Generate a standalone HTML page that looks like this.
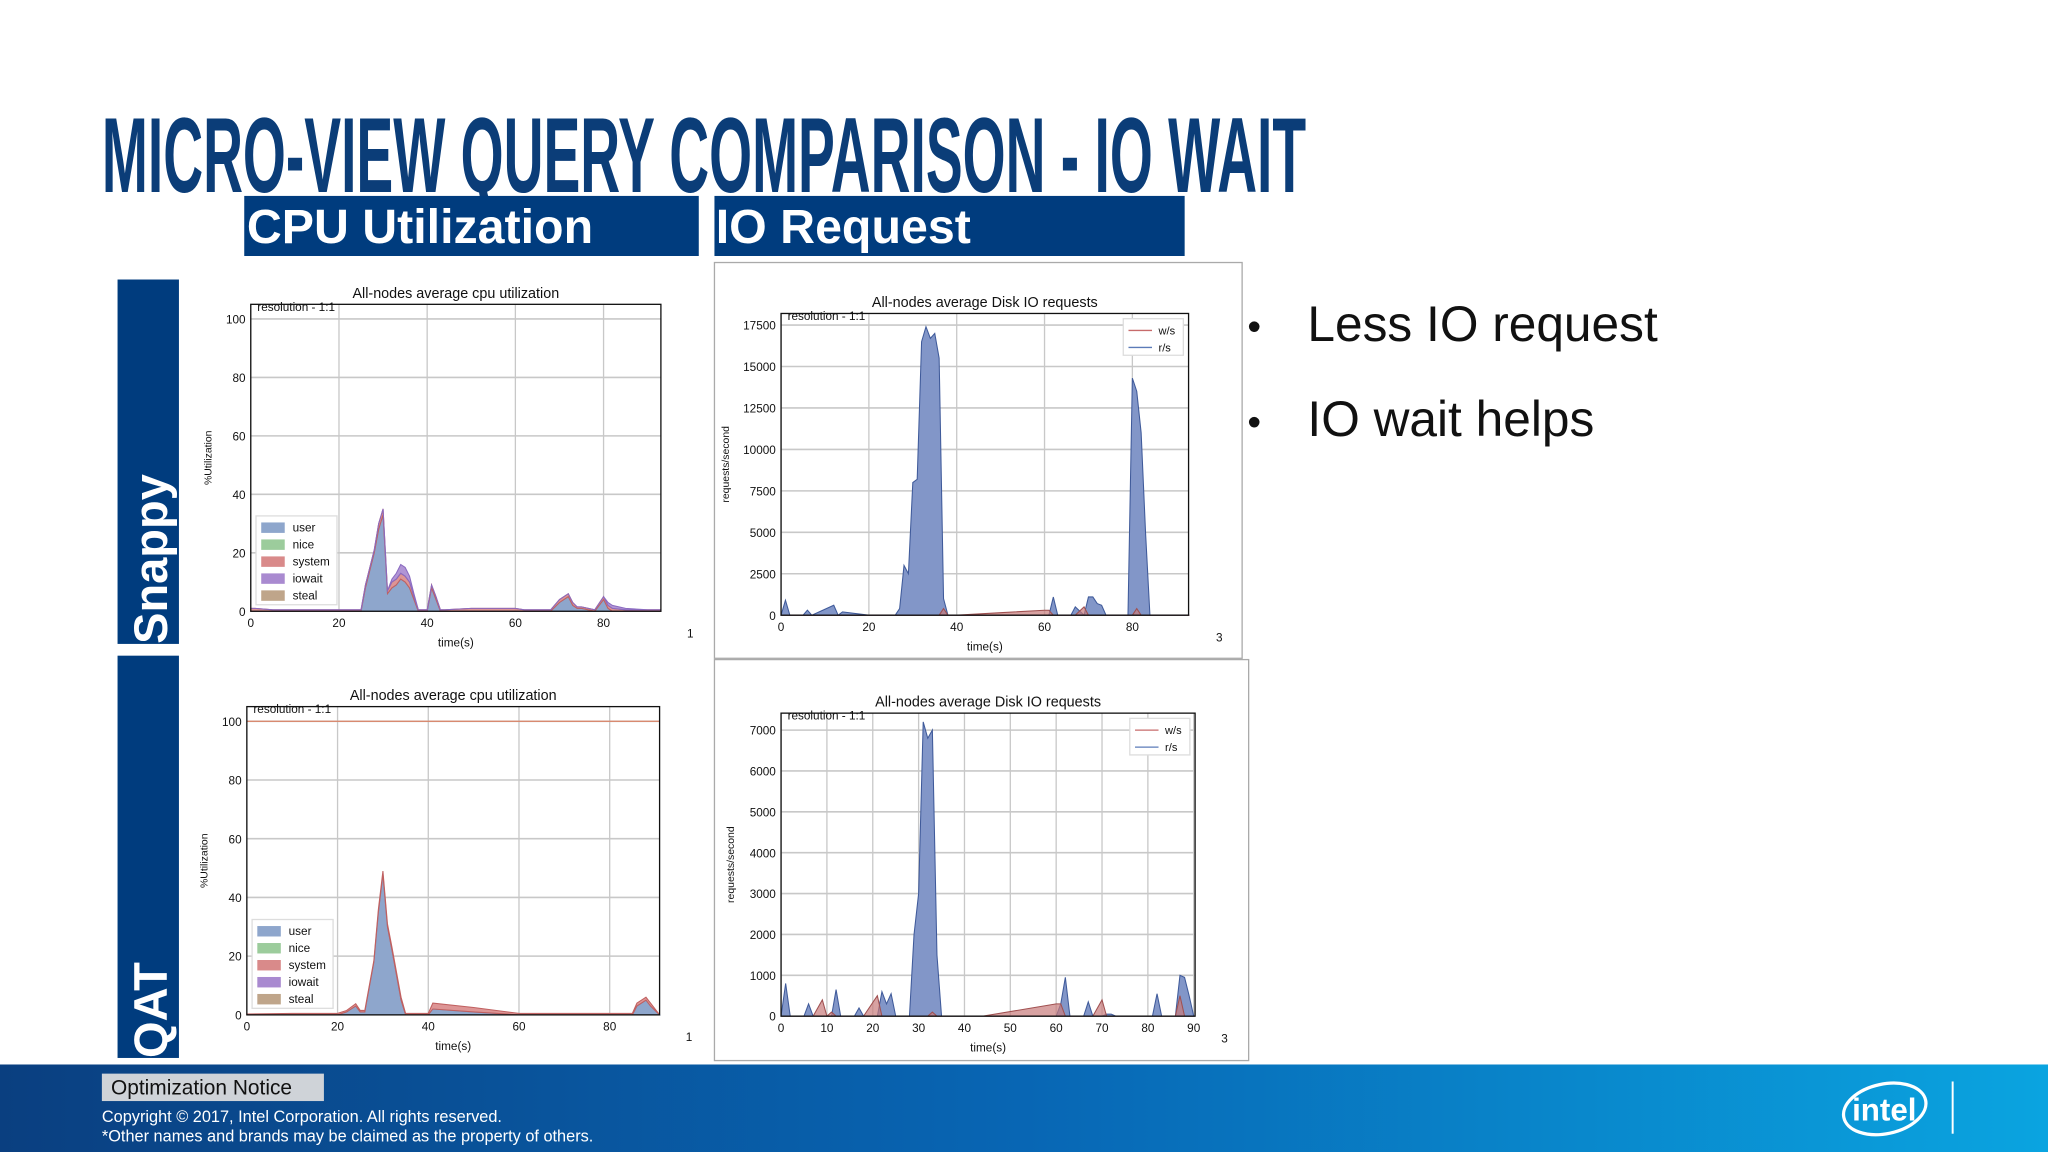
<!DOCTYPE html>
<html><head><meta charset="utf-8">
<style>
html,body{margin:0;padding:0;background:#fff;overflow:hidden}
svg{display:block}
text{font-family:"Liberation Sans",sans-serif}
</style></head>
<body>
<svg id="slide" width="2048" height="1152" viewBox="0 0 1568 882" xmlns="http://www.w3.org/2000/svg">
<defs>
<linearGradient id="footg" x1="0" x2="1" y1="0" y2="0">
<stop offset="0" stop-color="#0a3f80"/><stop offset="0.5" stop-color="#0866b4"/><stop offset="1" stop-color="#0aa4e0"/>
</linearGradient>
</defs>
<rect width="1568" height="882" fill="#fff"/>
<text x="78" y="147" font-family="'Liberation Sans Narrow','Liberation Sans',sans-serif" font-weight="bold" font-size="82" fill="#0b3d78" textLength="922" lengthAdjust="spacingAndGlyphs">MICRO-VIEW QUERY COMPARISON - IO WAIT</text>
<g><rect x="187" y="150" width="348" height="46" fill="#003c7e"/><text x="189" y="186" font-weight="bold" font-size="37" fill="#fff">CPU Utilization</text></g>
<g><rect x="547" y="150" width="360" height="46" fill="#003c7e"/><text x="548" y="186" font-weight="bold" font-size="37" fill="#fff">IO Request</text></g>
<g><rect x="90" y="214" width="47" height="279" fill="#003c7e"/><text transform="translate(128,493) rotate(-90)" font-weight="bold" font-size="36" fill="#fff">Snappy</text></g>
<g><rect x="90" y="502" width="47" height="308" fill="#003c7e"/><text transform="translate(128,810) rotate(-90)" font-weight="bold" font-size="36" fill="#fff">QAT</text></g>
<rect x="547" y="201" width="404" height="303" fill="none" stroke="#aaa"/>
<rect x="547" y="505" width="409" height="307" fill="none" stroke="#aaa"/>
<g id="charts"></g>
<g font-size="38" fill="#111">
<text x="955" y="260" font-size="30">•</text><text x="1001" y="261">Less IO request</text>
<text x="955" y="333" font-size="30">•</text><text x="1001" y="334">IO wait helps</text>
</g>
<rect x="0" y="815" width="1568" height="67" fill="url(#footg)"/>
<g><rect x="78" y="822" width="170" height="21" fill="#cfd3d8"/><text x="85" y="838" font-size="16" fill="#111">Optimization Notice</text></g>
<text x="78" y="859" font-size="12.5" fill="#fff">Copyright ©  2017, Intel Corporation. All rights reserved.</text>
<text x="78" y="874" font-size="12.5" fill="#fff">*Other names and brands may be claimed as the property of others.</text>
<g>
<ellipse cx="1443" cy="849" rx="32" ry="19" fill="none" stroke="#fff" stroke-width="2.5" transform="rotate(-12 1443 849)"/>
<text x="1418" y="858" font-size="24" font-weight="bold" fill="#fff">intel</text>
<line x1="1495" y1="828" x2="1495" y2="868" stroke="#fff" stroke-width="1.5"/>
</g>
</svg>
<script>
// ---- data: Snappy CPU ----
const cpuTopT      = [0,1,5,10,20,25,26,28,29,30,31,32,33,34,35,36,37,38,40,41,42,43,44,50,60,62,68,70,72,73,74,75,78,80,81,82,85,90,93];
const cpuTopUser   = [0,0,0,0,0,0,8,20,28,33,6,8,9,11,10,8,4,0,0,8,4,0,0,0,0,0,0,3,5,2,1,1,0,4,1,0,0,0,0];
const cpuTopSystem = [1,1,0.5,0.5,0.5,0.5,1,1,2,2,1,2,2,2,2,2,1,0.5,0.5,1,1,0.5,0.5,1,1,0.5,0.5,1,1,1,0.5,0.5,0.5,1,1,1,0.5,0.5,0.5];
const cpuTopIowait = [0,0,0,0,0,0,0,0,0,0,0,1,2,3,3,2,1,0,0,0,0,0,0,0,0,0,0,0,0,0,0,0,0,0,1,1,0.5,0,0];
// ---- data: QAT CPU ----
const cpuBotT      = [0,10,20,22,24,25,26,28,29,30,31,32,34,35,40,41,50,60,70,85,86,88,89,91];
const cpuBotUser   = [0,0,0,1,3,1,1,18,35,48,30,22,5,0,0,2,1,0,0,0,3,5,3,0];
const cpuBotSystem = [0.3,0.5,0.5,0.5,0.8,0.5,0.5,0.5,1,1,1,1,1,0.5,0.5,2,1.5,0.5,0.5,0.5,1,1,1,0];
// ---- data: Snappy Disk IO ----
const ioTopT  = [0,1,2,5,6,7,12,13,14,20,26,27,28,29,30,31,32,33,34,35,36,37,38,40,50,60,61,62,63,66,67,69,70,71,72,73,74,79,80,81,82,83,84,85,93];
const ioTopR  = [0,900,0,0,300,0,600,0,200,0,0,400,3000,2500,8000,8200,16500,17400,16700,17000,15500,1000,0,0,0,0,0,1100,0,0,500,0,1100,1100,700,600,0,0,14300,13500,11000,5000,0,0,0];
const ioTopW  = [0,0,0,0,0,0,0,0,0,0,0,0,0,0,0,0,0,0,0,0,0,400,0,0,150,300,300,0,0,0,0,500,0,0,0,0,0,0,0,400,0,0,0,0,0];
// ---- data: QAT Disk IO ----
const ioBotT  = [0,1,2,5,6,7,9,10,11,12,13,16,17,18,21,22,23,24,25,28,29,30,31,32,33,34,35,44,60,61,62,63,66,67,68,70,71,72,73,81,82,83,86,87,88,89,90];
const ioBotR  = [0,800,0,0,300,0,0,0,0,650,0,0,200,0,0,600,300,550,0,0,2000,3000,7200,6800,7000,1500,0,0,0,300,950,0,0,350,0,0,50,50,0,0,550,0,0,1000,950,500,0];
const ioBotW  = [0,0,0,0,0,0,400,0,100,0,0,0,0,0,500,0,0,0,0,0,0,0,0,0,100,0,0,0,300,300,0,0,0,0,0,400,0,0,0,0,0,0,0,500,0,0,0];

const cpuTicksY = [0,20,40,60,80,100];
const cpuTicksX = [0,20,40,60,80];
const ioTopTicksY = [0,2500,5000,7500,10000,12500,15000,17500];
const ioTopTicksX = [0,20,40,60,80];
const ioBotTicksY = [0,1000,2000,3000,4000,5000,6000,7000];
const ioBotTicksX = [0,10,20,30,40,50,60,70,80,90];

const NS='http://www.w3.org/2000/svg';
const root=document.getElementById('charts');
function mk(tag,attrs,parent){const e=document.createElementNS(NS,tag);for(const k in attrs)e.setAttribute(k,attrs[k]);(parent||root).appendChild(e);return e;}

function chart(c){
  const g=mk('g',{});
  
  
  const sx=v=>c.x0+(v-c.xmin)/(c.xmax-c.xmin)*(c.x1-c.x0);
  const sy=v=>c.y1-(v)/(c.ymax)*(c.y1-c.y0);
  mk('rect',{x:c.x0,y:c.y0,width:c.x1-c.x0,height:c.y1-c.y0,fill:'#fff'},g);
  // grid
  c.ty.forEach(v=>{const l=mk('line',{x1:c.x0,x2:c.x1,y1:sy(v),y2:sy(v),stroke:'#c8c8c8','stroke-width':1.2},g);
    
    const t=mk('text',{x:c.x0-4,y:sy(v)+3.5,'font-size':9,'text-anchor':'end',fill:'#111'},g);t.textContent=v;
    });
  c.tx.forEach(v=>{mk('line',{x1:sx(v),x2:sx(v),y1:c.y0,y2:c.y1,stroke:'#c8c8c8','stroke-width':1},g);
    const t=mk('text',{x:sx(v),y:c.y1+12,'font-size':9,'text-anchor':'middle',fill:'#111'},g);t.textContent=v;
    });
  // stacked series
  let base=c.t.map(()=>0);
  c.series.forEach(s=>{
    const top=base.map((b,i)=>b+s.v[i]);
    let pts=c.t.map((t,i)=>sx(t)+','+sy(top[i]));
    pts=pts.concat(c.t.map((t,i)=>sx(t)+','+sy(base[i])).reverse());
    const p=mk('polygon',{points:pts.join(' '),fill:s.color,'fill-opacity':s.op||0.75,stroke:s.stroke,'stroke-width':0.8},g);
    
    if(c.stacked) base=top;
  });
  if(c.hline!==undefined){mk('line',{x1:c.x0,x2:c.x1,y1:sy(c.hline),y2:sy(c.hline),stroke:'#d88a70','stroke-width':1},g);}
  mk('rect',{x:c.x0,y:c.y0,width:c.x1-c.x0,height:c.y1-c.y0,fill:'none',stroke:'#111','stroke-width':1},g);
  const ti=mk('text',{x:(c.x0+c.x1)/2,y:c.y0-5,'font-size':11,'text-anchor':'middle',fill:'#111'},g);ti.textContent=c.title;
  
  const rs=mk('text',{x:c.x0+5,y:c.y0+5,'font-size':9,fill:'#111'},g);rs.textContent='resolution - 1:1';
  const xl=mk('text',{x:(c.x0+c.x1)/2,y:c.y1+27,'font-size':9,'text-anchor':'middle',fill:'#111'},g);xl.textContent='time(s)';
  
  const yl=mk('text',{transform:`translate(${c.ylx},${(c.y0+c.y1)/2}) rotate(-90)`,'font-size':8,'text-anchor':'middle',fill:'#111'},g);yl.textContent=c.ylabel;
  
  const pn=mk('text',{x:c.pnx,y:c.y1+20,'font-size':9,fill:'#111'},g);pn.textContent=c.pn;
  // legend
  if(c.legend==='cpu'){
    const lg=mk('g',{},g);
    
    
    const lx=c.x0+4,ly=c.y1-73;
    mk('rect',{x:lx,y:ly,width:62,height:68,fill:'#fff',stroke:'#ddd'},lg);
    [['user','#8ea6cc'],['nice','#9ccc9c'],['system','#d98a8a'],['iowait','#a98ad0'],['steal','#bfa58a']].forEach((e,i)=>{
      mk('rect',{x:lx+4,y:ly+5+i*13,width:18,height:8,fill:e[1]},lg);
      const t=mk('text',{x:lx+28,y:ly+12+i*13,'font-size':9,fill:'#111'},lg);t.textContent=e[0];
      
    });
  } else {
    const lg=mk('g',{},g);
    
    
    const lx=c.x1-50,ly=c.y0+4;
    mk('rect',{x:lx,y:ly,width:46,height:28,fill:'#fff',stroke:'#ddd'},lg);
    [['w/s','#c76b6b'],['r/s','#5b7bb8']].forEach((e,i)=>{
      mk('line',{x1:lx+4,x2:lx+22,y1:ly+9+i*13,y2:ly+9+i*13,stroke:e[1],'stroke-width':1},lg);
      const t=mk('text',{x:lx+27,y:ly+12+i*13,'font-size':8.5,fill:'#111'},lg);t.textContent=e[0];
      
    });
  }
}
chart({name:'snappy-cpu-chart',title:'All-nodes average cpu utilization',x0:192,x1:506,y0:233,y1:468,xmin:0,xmax:93,ymax:105,
  tx:cpuTicksX,ty:cpuTicksY,t:cpuTopT,stacked:true,legend:'cpu',ylabel:'%Utilization',ylx:162,pn:'1',pnx:526,
  series:[{name:'user',v:cpuTopUser,color:'#8ea6cc',stroke:'#6f8fc0',op:1},{name:'system',v:cpuTopSystem,color:'#d98a8a',stroke:'#c06060',op:0.9},{name:'iowait',v:cpuTopIowait,color:'#a98ad0',stroke:'#8a6ac0',op:0.9}]});
chart({name:'qat-cpu-chart',title:'All-nodes average cpu utilization',x0:189,x1:505,y0:541,y1:777,xmin:0,xmax:91,ymax:105,
  tx:cpuTicksX,ty:cpuTicksY,t:cpuBotT,stacked:true,legend:'cpu',ylabel:'%Utilization',ylx:159,pn:'1',pnx:525,hline:100,
  series:[{name:'user',v:cpuBotUser,color:'#8ea6cc',stroke:'#6f8fc0',op:1},{name:'system',v:cpuBotSystem,color:'#d98a8a',stroke:'#c06060',op:0.9}]});
chart({name:'snappy-io-chart',title:'All-nodes average Disk IO requests',x0:598,x1:910,y0:240,y1:471,xmin:0,xmax:92.8,ymax:18200,
  tx:ioTopTicksX,ty:ioTopTicksY,t:ioTopT,stacked:false,legend:'io',ylabel:'requests/second',ylx:558,pn:'3',pnx:931,
  series:[{name:'r-s',v:ioTopR,color:'#8296c8',stroke:'#3f5a9a',op:1},{name:'w-s',v:ioTopW,color:'#c77a7a',stroke:'#a05050',op:0.7}]});
chart({name:'qat-io-chart',title:'All-nodes average Disk IO requests',x0:598,x1:915,y0:546,y1:778,xmin:0,xmax:90.3,ymax:7415,
  tx:ioBotTicksX,ty:ioBotTicksY,t:ioBotT,stacked:false,legend:'io',ylabel:'requests/second',ylx:562,pn:'3',pnx:935,
  series:[{name:'r-s',v:ioBotR,color:'#8296c8',stroke:'#3f5a9a',op:1},{name:'w-s',v:ioBotW,color:'#c77a7a',stroke:'#a05050',op:0.7}]});
</script>
</body></html>
